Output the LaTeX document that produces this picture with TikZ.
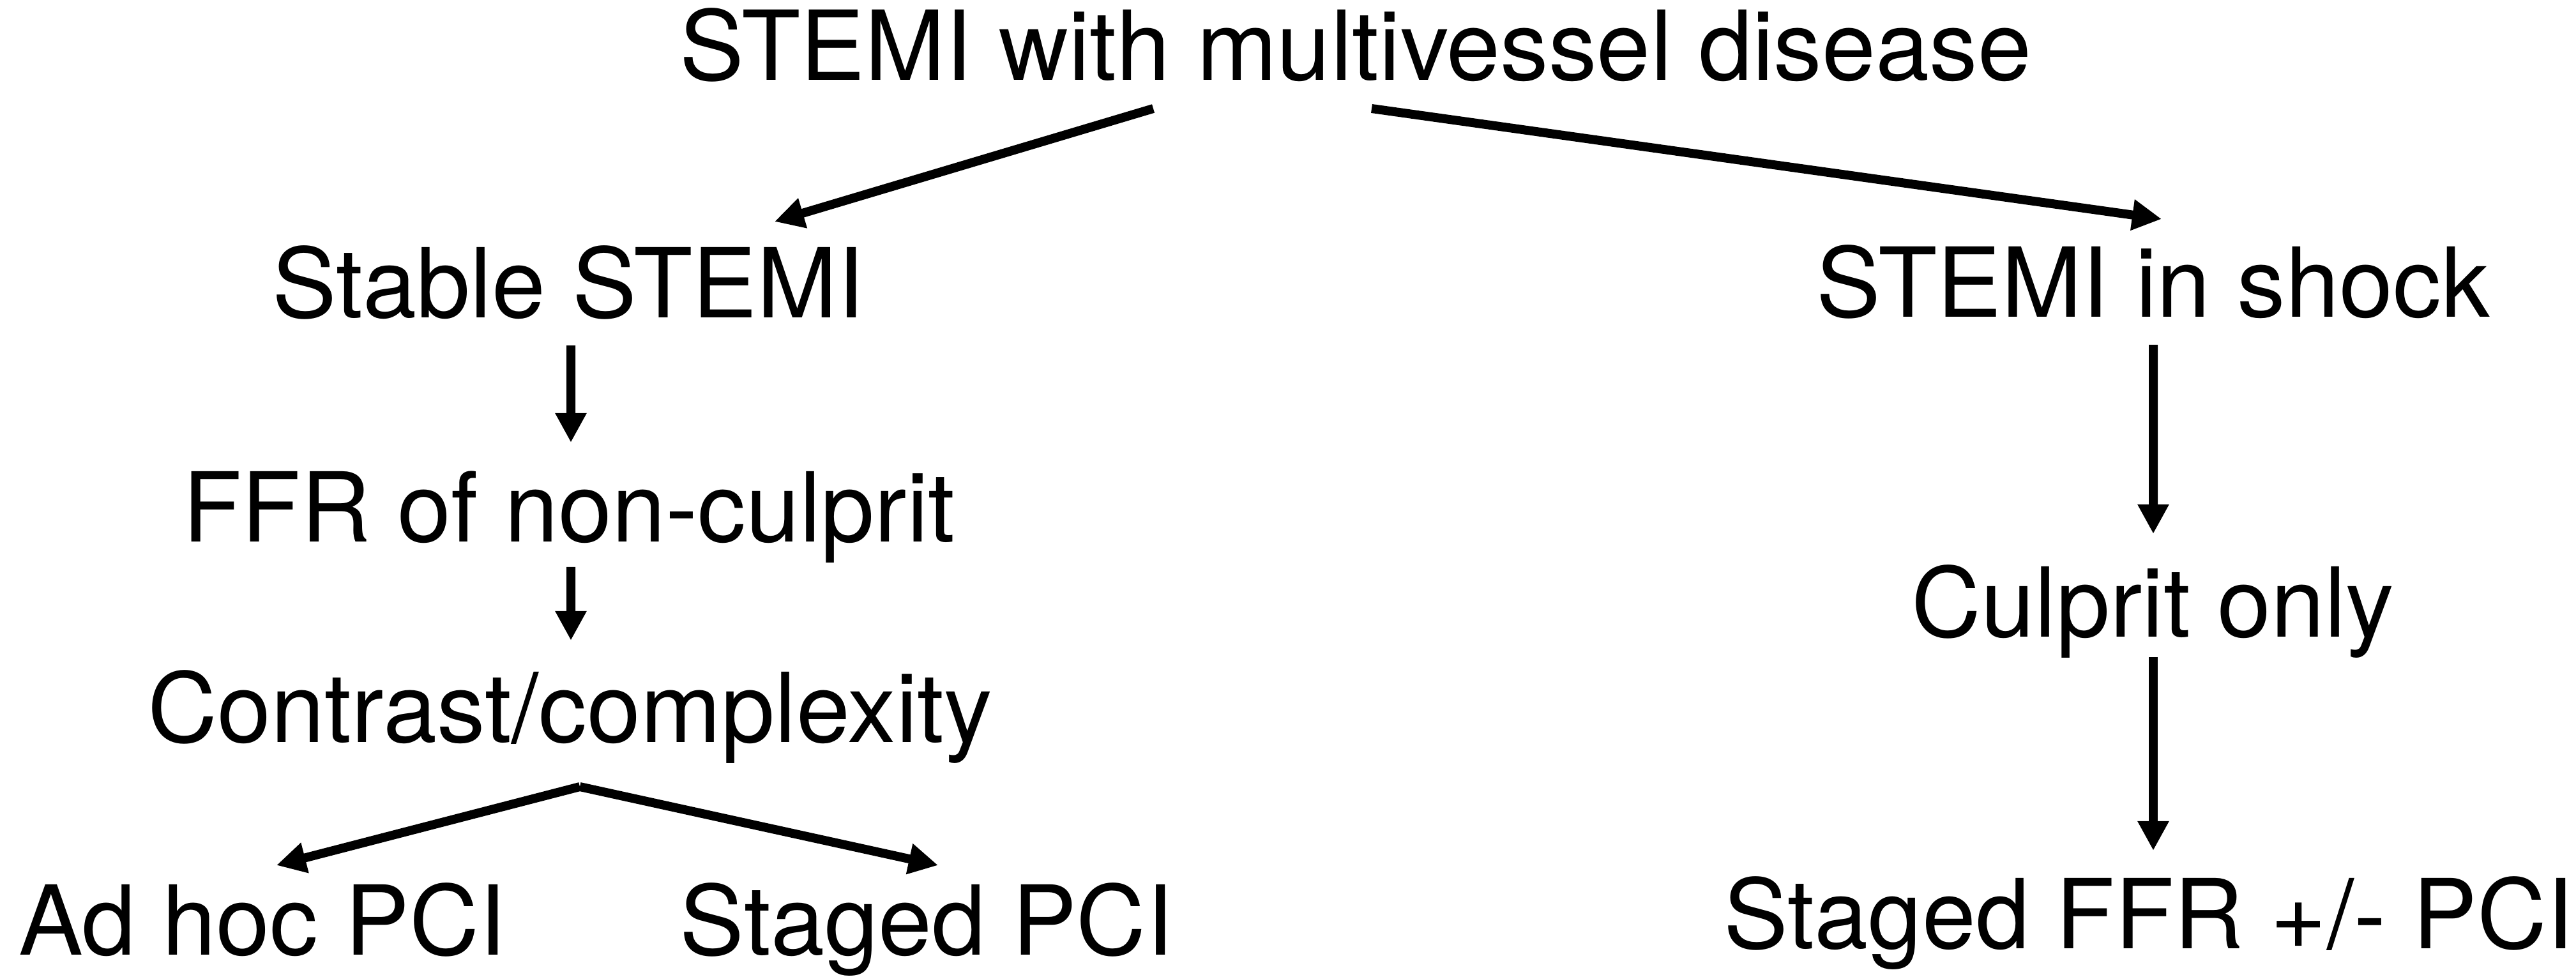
\documentclass[tikz,border=0pt]{standalone}
\usepackage{fontspec}
\setmainfont{TeX Gyre Heros}
\usepackage{tikz}
\usetikzlibrary{arrows.meta}
\definecolor{inkc}{RGB}{0,0,0}

\begin{document}
\begin{tikzpicture}[>={Triangle[length=0.46cm,width=0.46cm]},
    lbl/.style={inkc, anchor=base, inner sep=0pt, outer sep=0pt,
                font=\fontsize{43pt}{50pt}\selectfont},
    arr/.style={->, inkc, line width=0.14cm}]
  \useasboundingbox (0,0) rectangle (40.34,15.30);

  % labels, placed by their baselines
  \node[lbl] (title)     at (21.23,14.04) {STEMI with multivessel disease};
  \node[lbl] (stable)    at (8.90,10.32)  {Stable STEMI};
  \node[lbl] (shock)     at (33.72,10.33) {STEMI in shock};
  \node[lbl] (ffr)       at (8.91,6.81)   {FFR of non-culprit};
  \node[lbl] (contrast)  at (8.93,3.67)   {Contrast/complexity};
  \node[lbl] (culprit)   at (33.71,5.32)  {Culprit only};
  \node[lbl] (adhoc)     at (4.11,0.34)   {Ad hoc PCI};
  \node[lbl] (stagedpci) at (14.51,0.34)  {Staged PCI};
  \node[lbl] (stagedffr) at (33.65,0.44)  {Staged FFR +/- PCI};

  % first split
  \draw[arr] ([xshift=-3.17cm,yshift=-0.44cm]title.base) -- ([xshift=3.23cm,yshift=1.51cm]stable.base);
  \draw[arr] ([xshift=0.25cm,yshift=-0.44cm]title.base) -- ([xshift=0.13cm,yshift=1.54cm]shock.base);

  % stable branch
  \draw[arr] ([xshift=0.04cm,yshift=-0.43cm]stable.base) -- ([xshift=0.03cm,yshift=1.56cm]ffr.base);
  \draw[arr] ([xshift=0.03cm,yshift=-0.39cm]ffr.base) -- ([xshift=0.01cm,yshift=1.60cm]contrast.base);
  \coordinate (split) at ([xshift=0.15cm,yshift=-0.69cm]contrast.base);
  \draw[arr] (split) -- ([xshift=0.22cm,yshift=1.41cm]adhoc.base);
  \draw[arr] (split) -- ([xshift=0.18cm,yshift=1.41cm]stagedpci.base);

  % shock branch
  \draw[arr] ([yshift=-0.43cm]shock.base) -- ([xshift=0.01cm,yshift=1.62cm]culprit.base);
  \draw[arr] ([xshift=0.01cm,yshift=-0.31cm]culprit.base) -- ([xshift=0.07cm,yshift=1.54cm]stagedffr.base);
\end{tikzpicture}
\end{document}
